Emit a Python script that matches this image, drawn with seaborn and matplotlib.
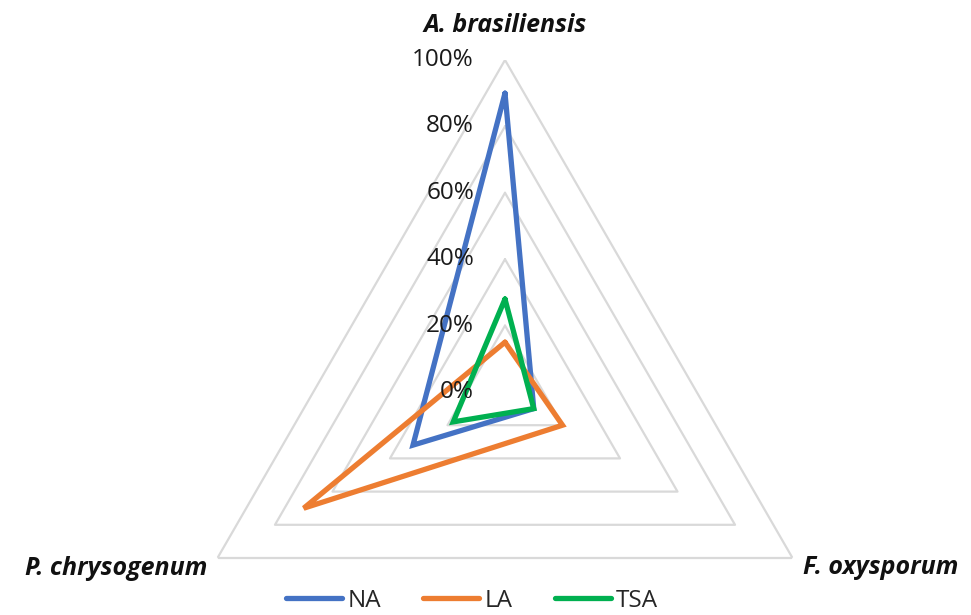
import numpy as np
import pandas as pd
import matplotlib
matplotlib.use("Agg")
import matplotlib.pyplot as plt
import seaborn as sns

especies = ["A. brasiliensis", "F. oxysporum", "P. chrysogenum"]
series = ["NA", "LA", "TSA"]
valores_na = [0.90, 0.10, 0.32]
valores_la = [0.15, 0.20, 0.70]
valores_tsa = [0.28, 0.10, 0.18]
niveles = [0.0, 0.2, 0.4, 0.6, 0.8, 1.0]
etiquetas_niveles = ["0%", "20%", "40%", "60%", "80%", "100%"]
colores = {"NA": "#4472C4", "LA": "#ED7D31", "TSA": "#00B050"}

sns.set_style("white")
plt.rcParams["font.family"] = ["Open Sans", "DejaVu Sans"]

angulos = np.linspace(0, 2 * np.pi, len(especies) + 1)

filas = []
for nombre, vals in zip(series, [valores_na, valores_la, valores_tsa]):
    cerrado = list(vals) + [vals[0]]
    for ang, v in zip(angulos, cerrado):
        filas.append({"theta": ang, "valor": v, "serie": nombre})
df = pd.DataFrame(filas)

fig = plt.figure(figsize=(9.71, 6.15), dpi=100)
W, H = 971, 615
cx, cy, R = 505, 392, 332
ax = fig.add_axes([(cx - R) / W, (H - cy - R) / H, 2 * R / W, 2 * R / H], projection="polar")
ax.set_theta_offset(np.pi / 2)
ax.set_theta_direction(-1)
ax.set_ylim(0, 1)
ax.set_xticks([])
ax.set_yticks([])
ax.grid(False)
ax.spines["polar"].set_visible(False)
ax.patch.set_alpha(0)

# rejilla triangular
for nv in niveles[1:]:
    ax.plot(angulos, [nv] * len(angulos), color="#D9D9D9", lw=1.6, zorder=1)

sns.lineplot(data=df, x="theta", y="valor", hue="serie", palette=colores,
             sort=False, estimator=None, lw=3.8, ax=ax, zorder=3,
             solid_joinstyle="miter")
ax.set_xlabel("")
ax.set_ylabel("")
handles, labels = ax.get_legend_handles_labels()
ax.get_legend().remove()

for nv, et in zip(niveles, etiquetas_niveles):
    ax.annotate(et, xy=(0, nv), xytext=(-31, 0), textcoords="offset pixels",
                ha="right", va="center", fontsize=17.5, color="#1a1a1a")

fuente_cat = dict(fontsize=18, fontweight="bold", fontstyle="italic", color="#111111")
ax.annotate(especies[0], xy=(angulos[0], 1), xytext=(0, 35), textcoords="offset pixels",
            ha="center", va="center", **fuente_cat)
ax.annotate(especies[1], xy=(angulos[1], 1), xytext=(10, -10), textcoords="offset pixels",
            ha="left", va="center", **fuente_cat)
ax.annotate(especies[2], xy=(angulos[2], 1), xytext=(-10, -10), textcoords="offset pixels",
            ha="right", va="center", **fuente_cat)

for h in handles:
    h.set_linewidth(3.8)
    h.set_solid_capstyle("round")
fig.legend(handles, labels, loc="center", bbox_to_anchor=(472 / W, 14 / H), ncol=3,
           frameon=False, fontsize=17.5, handlelength=2.3, handletextpad=0.2,
           columnspacing=1.75, borderpad=0.1)

fig.savefig("out.png", dpi=100)
